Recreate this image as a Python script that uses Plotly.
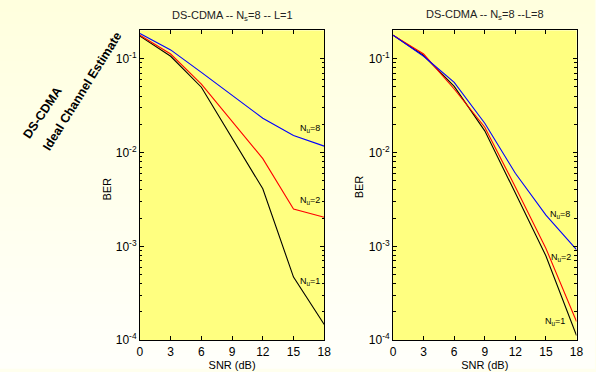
import numpy as np
import plotly.graph_objects as go

# ---- data ----
snr = [0, 3, 6, 9, 12, 15, 18]
# L = 1
l1_nu1 = [0.174, 0.106, 0.0496, 0.0143, 0.0041, 4.7e-4, 1.47e-4]
l1_nu2 = [0.178, 0.112, 0.0536, 0.0214, 0.0086, 0.0025, 0.00204]
l1_nu8 = [0.185, 0.124, 0.0714, 0.0407, 0.0232, 0.0152, 0.0117]
# L = 8
l8_nu1 = [0.178, 0.108, 0.0507, 0.0170, 0.0037, 7.9e-4, 1.12e-4]
l8_nu2 = [0.178, 0.112, 0.0475, 0.0186, 0.0043, 9.5e-4, 1.58e-4]
l8_nu8 = [0.178, 0.106, 0.0558, 0.0205, 0.0060, 0.00215, 9.2e-4]

series_names = ["N<sub>u</sub>=1", "N<sub>u</sub>=2", "N<sub>u</sub>=8"]
colors = ["#000000", "#FF0000", "#0000FF"]
x_ticks = [0, 3, 6, 9, 12, 15, 18]
y_ticks = [1e-4, 1e-3, 1e-2, 1e-1]
y_ticktext = ["10<sup>-4</sup>", "10<sup>-3</sup>", "10<sup>-2</sup>", "10<sup>-1</sup>"]
titles = ["DS-CDMA -- N<sub>s</sub>=8 -- L=1", "DS-CDMA -- N<sub>s</sub>=8 --L=8"]

FONT = "Liberation Sans, Arial, sans-serif"
W, H = 596, 372

fig = go.Figure()

panels = [(l1_nu1, l1_nu2, l1_nu8), (l8_nu1, l8_nu2, l8_nu8)]
for p, data in enumerate(panels):
    xa = "x" if p == 0 else "x2"
    ya = "y" if p == 0 else "y2"
    for s, vals in enumerate(data):
        fig.add_trace(go.Scatter(x=snr, y=vals, mode="lines", xaxis=xa, yaxis=ya,
                                 line=dict(color=colors[s], width=1.1),
                                 showlegend=False, hoverinfo="skip"))

minor_vals = [m * 10.0 ** e for e in range(-4, 0) for m in range(2, 10)]

def xaxis_cfg(domain, anchor):
    return dict(domain=domain, anchor=anchor, range=[0, 18], tickvals=x_ticks,
                ticks="inside", ticklen=4, tickcolor="black", showline=True,
                linecolor="black", linewidth=1, mirror="ticks", showgrid=False,
                zeroline=False, tickfont=dict(family=FONT, size=12, color="black"),
                title=dict(text="SNR (dB)", font=dict(family=FONT, size=11, color="black"),
                           standoff=0))

def yaxis_cfg(domain, anchor):
    return dict(domain=domain, anchor=anchor, type="log",
                range=[-4, np.log10(0.2)], tickvals=y_ticks, ticktext=y_ticktext,
                ticks="inside", ticklen=4, tickcolor="black", showline=True,
                linecolor="black", linewidth=1, mirror="ticks", showgrid=False,
                zeroline=False, tickfont=dict(family=FONT, size=12, color="black"),
                minor=dict(tickvals=minor_vals, ticks="inside", ticklen=2.5,
                           tickcolor="black", showgrid=False))

xdom1 = [139.3 / W, 326.7 / W]
xdom2 = [396.7 / W, 583.3 / W]
ydom = [1 - 346.7 / H, 1 - 31 / H]
fig.update_layout(
    width=W, height=H,
    margin=dict(l=0, r=0, t=0, b=0),
    paper_bgcolor="#FFFFEE",
    plot_bgcolor="#FFFF80",
    xaxis=xaxis_cfg(xdom1, "y"),
    yaxis=yaxis_cfg(ydom, "x"),
    xaxis2=xaxis_cfg(xdom2, "y2"),
    yaxis2=yaxis_cfg(ydom, "x2"),
)

# subtle background gradient (light yellow at top to near white at bottom)
n_bands = 30
shapes = []
for i in range(n_bands):
    t = i / (n_bands - 1)
    b = int(round(222 + (250 - 222) * t))
    y1 = 1 - i / n_bands
    y0 = 1 - (i + 1) / n_bands - 0.02
    shapes.append(dict(type="rect", xref="paper", yref="paper", x0=-0.01, x1=1.01,
                       y0=max(y0, -0.01), y1=y1 + (0.01 if i == 0 else 0),
                       fillcolor=f"rgb(255,255,{b})",
                       line=dict(width=0), layer="below"))
# yellow plot areas on top of the gradient
for xd in (xdom1, xdom2):
    shapes.append(dict(type="rect", xref="paper", yref="paper", x0=xd[0], x1=xd[1],
                       y0=ydom[0], y1=ydom[1], fillcolor="#FFFF80",
                       line=dict(width=0), layer="below"))
fig.update_layout(shapes=shapes)

ann = []
# titles
ann.append(dict(text=titles[0], x=233 / W, y=1 - 16 / H, xref="paper", yref="paper",
                xanchor="center", yanchor="middle",
                showarrow=False, font=dict(family=FONT, size=11, color="#222")))
ann.append(dict(text=titles[1], x=490 / W, y=1 - 15 / H, xref="paper", yref="paper",
                xanchor="center", yanchor="middle",
                showarrow=False, font=dict(family=FONT, size=11, color="#222")))
# y axis titles
for xc, yc in ((106, 193), (363, 190)):
    ann.append(dict(text="BER", x=xc / W, y=1 - yc / H, xref="paper", yref="paper",
                    xanchor="center", yanchor="middle", textangle=-90,
                    showarrow=False, font=dict(family=FONT, size=11, color="black")))
# series labels
lab_pos = [
    [(16.6, 4.2e-4), (16.6, 0.00307), (16.6, 0.0182)],
    [(15.9, 1.57e-4), (16.5, 7.6e-4), (16.4, 0.00219)],
]
for p in range(2):
    xr = "x" if p == 0 else "x2"
    yr = "y" if p == 0 else "y2"
    for s in range(3):
        xv, yv = lab_pos[p][s]
        ann.append(dict(text=series_names[s], x=xv, y=np.log10(yv), xref=xr, yref=yr,
                        xanchor="center", yanchor="middle",
                        showarrow=False, font=dict(family=FONT, size=9, color="black")))
# rotated side texts
ann.append(dict(text="<b>DS-CDMA</b>", x=40 / W, y=1 - 115 / H, xref="paper", yref="paper",
                xanchor="center", yanchor="middle",
                showarrow=False, textangle=-56,
                font=dict(family=FONT, size=12.5, color="black")))
ann.append(dict(text="<b>Ideal Channel Estimate</b>", x=81 / W, y=1 - 93 / H,
                xref="paper", yref="paper", showarrow=False, textangle=-58,
                xanchor="center", yanchor="middle",
                font=dict(family=FONT, size=12.5, color="black")))
fig.update_layout(annotations=ann)

fig.write_html("out.html")
